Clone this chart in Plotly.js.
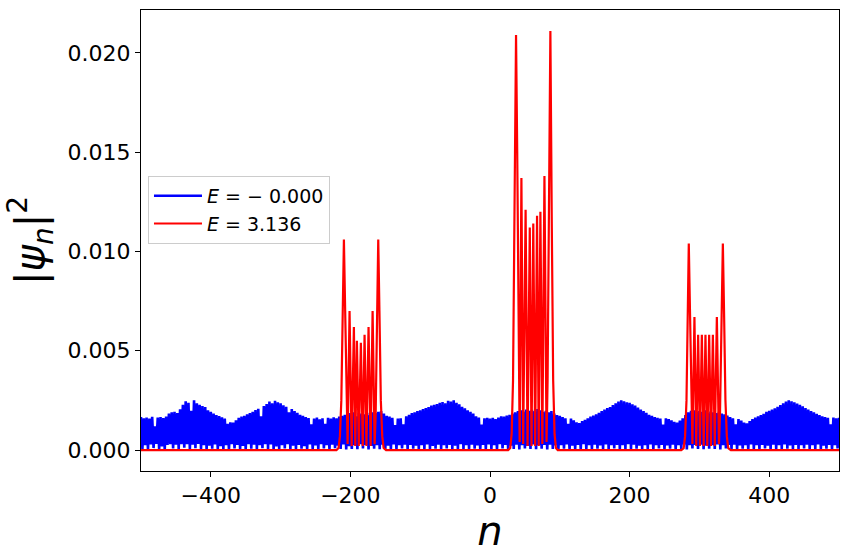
<!DOCTYPE html>
<html>
<head>
<meta charset="utf-8">
<script src="https://cdn.plot.ly/plotly-3.0.1.min.js"></script>
<style>
    html, body { margin: 0; padding: 0; background: #fff; }
    #chart { width: 848px; height: 560px; }
</style>
</head>
<body>
<div id="chart"></div>
<script>
"use strict";

// E = -0.000 state, sampled every 2 sites from n = -500 to 500
// values are |psi_n|^2 in units of 1e-5
var blueStart = -500;
var blueStep = 2;
var bluePsiE5 = [
    166, 6, 160, 24, 164, 3, 158, 28, 167, 10,
    120, 31, 163, 5, 166, 18, 161, 2, 168, 26,
    184, 30, 190, 8, 192, 27, 186, 4, 205, 29,
    228, 12, 245, 30, 238, 3, 198, 27, 250, 9,
    236, 31, 228, 6, 221, 25, 216, 2, 200, 22,
    192, 7, 184, 28, 176, 4, 171, 19, 165, 5,
    158, 24, 132, 3, 140, 30, 138, 8, 150, 26,
    162, 5, 168, 21, 172, 3, 180, 29, 186, 7,
    192, 27, 201, 4, 208, 25, 170, 9, 222, 30,
    232, 6, 244, 28, 236, 2, 248, 18, 240, 4,
    236, 24, 225, 8, 218, 29, 190, 3, 206, 22,
    196, 5, 188, 26, 178, 7, 172, 20, 166, 2,
    161, 28, 130, 6, 158, 23, 163, 4, 155, 30,
    160, 8, 132, 25, 162, 3, 158, 27, 165, 9,
    160, 22, 168, 5, 172, 28, 178, 3, 182, 19,
    186, 6, 190, 24, 170, 4, 188, 29, 184, 8,
    180, 26, 188, 3, 176, 21, 190, 7, 186, 25,
    192, 4, 196, 27, 184, 6, 172, 22, 168, 3,
    162, 28, 126, 5, 158, 24, 160, 8, 130, 27,
    170, 4, 178, 26, 186, 7, 190, 22, 196, 3,
    200, 25, 206, 6, 212, 28, 216, 4, 224, 21,
    228, 7, 232, 27, 238, 3, 242, 24, 236, 8,
    248, 26, 244, 5, 250, 22, 238, 2, 230, 29,
    218, 6, 210, 25, 200, 4, 192, 27, 184, 7,
    170, 23, 164, 3, 128, 26, 160, 6, 162, 28,
    158, 5, 162, 24, 156, 2, 164, 29, 170, 8,
    168, 26, 174, 4, 178, 22, 184, 6, 190, 27,
    196, 3, 200, 25, 194, 8, 204, 21, 198, 5,
    202, 28, 196, 4, 206, 24, 200, 7, 192, 26,
    198, 3, 190, 27, 196, 6, 184, 23, 176, 4,
    172, 25, 166, 7, 160, 28, 132, 3, 158, 22,
    150, 5, 140, 26, 136, 4, 146, 29, 152, 6,
    160, 24, 168, 3, 174, 27, 180, 7, 188, 23,
    196, 5, 204, 28, 212, 4, 216, 25, 226, 8,
    236, 26, 244, 3, 250, 24, 246, 6, 240, 29,
    238, 4, 230, 27, 224, 7, 214, 22, 204, 3,
    196, 25, 188, 6, 178, 28, 172, 2, 166, 24,
    162, 8, 158, 26, 128, 3, 160, 23, 156, 7,
    150, 27, 142, 4, 138, 25, 148, 6, 160, 28,
    176, 3, 190, 24, 198, 8, 200, 26, 194, 5,
    196, 27, 192, 4, 200, 22, 188, 7, 194, 25,
    190, 6, 186, 28, 192, 3, 184, 24, 180, 8,
    174, 26, 166, 5, 160, 27, 130, 4, 156, 23,
    148, 7, 138, 25, 134, 3, 146, 28, 156, 6,
    164, 24, 170, 4, 176, 26, 182, 8, 192, 22,
    198, 3, 204, 27, 210, 6, 218, 24, 226, 5,
    236, 28, 244, 7, 250, 23, 246, 3, 240, 26,
    234, 4, 228, 25, 220, 8, 212, 27, 204, 3,
    196, 24, 190, 6, 182, 28, 176, 4, 170, 22,
    166, 7, 162, 26, 130, 3, 164, 24, 160, 8,
    162
];

// E = 3.136 state: zero everywhere except three clusters of peaks
var redN = [
    -500,
    -220, -217, -215, -213, -211, -209.3, -207.5, -205.5, -204, -201.2,
    -198.2, -195, -193, -190.7, -188, -185, -182.3, -179.7, -177, -174,
    -171, -168.2, -165.3, -163.8, -161.8, -160.1, -158.4, -156.4, -154.4, -152.4,
    -149,
    26, 29, 31, 33, 35, 37.3, 39, 41, 42.5, 45,
    47.5, 51, 53.8, 57, 59.5, 62, 64.7, 67.4, 69.8, 72.2,
    75, 78, 81, 82.5, 84.5, 86.5, 88.5, 90.5, 92.5, 94.5,
    97,
    274, 277.5, 279.5, 281.5, 283.2, 284.8, 286.5, 288.5, 290, 292.9,
    295.5, 298.2, 300.8, 303.5, 306.1, 308.7, 311.3, 314, 316.6, 319.3,
    322, 325, 328, 329.5, 331.8, 333.6, 335.3, 337.3, 339.3, 341.3,
    345,
    500
];
var redPsi = [
    0,
    0, 0.0001, 0.0007, 0.0025, 0.0070, 0.0106, 0.0070, 0.0018, 0.0003, 0.0070,
    0.0002, 0.0062, 0.0002, 0.0055, 0.0002, 0.0054, 0.0002, 0.0058, 0.0002, 0.0062,
    0.0002, 0.0070, 0.0003, 0.0018, 0.0070, 0.0106, 0.0070, 0.0025, 0.0007, 0.0001,
    0,
    0, 0.0001, 0.0008, 0.0035, 0.0115, 0.0209, 0.0150, 0.0035, 0.0004, 0.0137,
    0.0003, 0.0121, 0.0002, 0.0112, 0.0002, 0.0114, 0.0002, 0.0118, 0.0002, 0.0120,
    0.0003, 0.0138, 0.0004, 0.0035, 0.0150, 0.0211, 0.0115, 0.0035, 0.0008, 0.0001,
    0,
    0, 0.0001, 0.0007, 0.0025, 0.0070, 0.0104, 0.0070, 0.0018, 0.0003, 0.0067,
    0.0002, 0.0058, 0.0002, 0.0058, 0.0002, 0.0058, 0.0002, 0.0058, 0.0002, 0.0058,
    0.0002, 0.0067, 0.0003, 0.0018, 0.0070, 0.0104, 0.0070, 0.0025, 0.0007, 0.0001,
    0,
    0
];

var legendLabels = ['<i>E</i> = \u2212 0.000', '<i>E</i> = 3.136'];
var xTicks = [-400, -200, 0, 200, 400];
var yTicks = [0, 0.005, 0.010, 0.015, 0.020];

var FONT = 'DejaVu Sans, sans-serif';

function blueSites() {
    return bluePsiE5.map(function (v, i) { return blueStart + i * blueStep; });
}

function buildTraces() {
    return [
        {
            x: blueSites(),
            y: bluePsiE5.map(function (v) { return v * 1e-5; }),
            type: 'scatter',
            mode: 'lines',
            name: legendLabels[0],
            line: { color: '#0000ff', width: 2.6 },
        },
        {
            x: redN,
            y: redPsi,
            type: 'scatter',
            mode: 'lines',
            name: legendLabels[1],
            line: { color: '#ff0000', width: 2.2 },
        },
    ];
}

function axisStyle() {
    return {
        showline: true,
        mirror: true,
        linecolor: '#000',
        linewidth: 1,
        ticks: 'outside',
        ticklen: 5,
        tickwidth: 1,
        tickcolor: '#000',
        showgrid: false,
        zeroline: false,
        tickfont: { family: FONT, size: 22, color: '#000' },
    };
}

var xaxis = axisStyle();
xaxis.range = [-500, 500];
xaxis.tickvals = xTicks;
xaxis.title = { text: '<i>n</i>', font: { family: FONT, size: 40, color: '#000' }, standoff: 6 };

var yaxis = axisStyle();
yaxis.range = [-0.001055, 0.022155];
yaxis.tickvals = yTicks;
yaxis.tickformat = '.3f';
yaxis.title = { text: '|<i>\u03c8</i><sub><i>n</i></sub>|<sup>2</sup>', font: { family: FONT, size: 40, color: '#000' }, standoff: 10 };

var layout = {
    width: 848,
    height: 560,
    margin: { l: 141, r: 9, t: 10, b: 89 },
    paper_bgcolor: '#fff',
    plot_bgcolor: '#fff',
    showlegend: true,
    legend: {
        x: 0.01,
        y: 0.64,
        xanchor: 'left',
        yanchor: 'top',
        itemwidth: 48,
        bgcolor: 'rgba(255,255,255,0.8)',
        bordercolor: '#cccccc',
        borderwidth: 1,
        font: { family: FONT, size: 19, color: '#000' },
    },
    xaxis: xaxis,
    yaxis: yaxis,
};

Plotly.newPlot('chart', buildTraces(), layout, { displayModeBar: false, staticPlot: true });
</script>
</body>
</html>
